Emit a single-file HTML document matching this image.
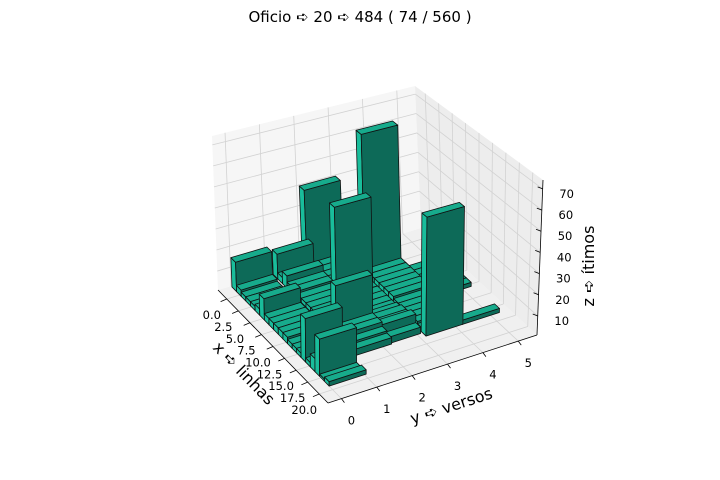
<!DOCTYPE html>
<html><head><meta charset="utf-8"><style>
html,body{margin:0;padding:0;background:#fff;}
svg{display:block;font-family:"DejaVu Sans","Liberation Sans",sans-serif;}
</style></head><body>
<svg id="chart" width="720" height="480" viewBox="0 0 720 480" xmlns="http://www.w3.org/2000/svg">
<text x="360" y="22" text-anchor="middle" font-size="15" fill="#000">Oficio ➪ 20 ➪ 484 ( 74 / 560 )</text>
<g id="panes"></g>
<g id="grid"></g>
<g id="axes"></g>
<g id="bars"></g>
<g id="labels"></g>
<text x="240" y="377" text-anchor="middle" font-size="16" transform="rotate(45.8 240 377)">x ➪ linhas</text>
<text x="453" y="411" text-anchor="middle" font-size="16" transform="rotate(-18 453 411)">y ➪ versos</text>
<text x="594" y="266" text-anchor="middle" font-size="16" transform="rotate(-90 594 266)">z ➪ ítimos</text>
</svg>
<script>
// data (front-face x corner, y start, bar top value)
const barX = [-0.7,0.3,1.3,2.3,3.3,4.3,5.3,6.3,7.3,8.3,9.3,10.3,11.3,12.3,13.2,14.2,15.2,16.2,17.2,18.2,19.25,
  -0.7,0.3,1.3,2.3,3.3,4.3,5.3,6.3,7.3,8.3,9.3,10.3,11.7,12.7,13.7,14.7,15.7,
  -0.7,0.3,1.3,2.3,3.3,4.3,5.5,6.5,7.5,8.5,9.5,10.5,11.5,12.5,13.5,14.5,15.5,
  0.4,1.4,2.4,3.4,4.4,5.4,6.4,7.4,8.4,9.4,10.4,11.4,12.4,13.4,14.4,15.4,16.2,
  16.2,5.4,6.4,7.4,8.4,9.4,10.4];
const barY = [0,0,0,0,0,0,0,0,0,0,0,0,0,0,0,0,0,0,0,0,0,
  1.2,1.2,1.2,1.2,1.2,1.2,1.2,1.2,1.2,1.2,1.2,1.2,1.2,1.2,1.2,1.2,1.2,
  2.05,2.05,2.05,2.05,2.05,2.05,2.05,2.05,2.05,2.05,2.05,2.05,2.05,2.05,2.05,2.05,2.05,
  3.16,3.16,3.16,3.16,3.16,3.16,3.16,3.16,3.16,3.16,3.16,3.16,3.16,3.16,3.16,3.16,3.16,
  4.2,4.2,4.2,4.2,4.2,4.2,4.2];
const barZ = [15,4,3,3,3,4,11,4,4,4,4,4,3,3,3,21,3,7,18,2,3,
  13,4,7,4,4,3,3,3,3,3,3,3,25,7,7,5,4,
  40,4,4,4,4,4,45,4,4,4,4,4,5,6,6,8,4,
  5,5,5,71,5,5,5,5,5,5,4,4,4,4,4,3,57,
  3,3,3,3,3,3,3];
const xTicks = [0,2.5,5,7.5,10,12.5,15,17.5,20];
const xTickLabels = ["0.0","2.5","5.0","7.5","10.0","12.5","15.0","17.5","20.0"];
const yTicks = [0,1,2,3,4,5];
const yTickLabels = ["0","1","2","3","4","5"];
const zTicks = [10,20,30,40,50,60,70];
const zTickLabels = ["10","20","30","40","50","60","70"];

const XMIN=-1.9,XMAX=21.9,YMIN=-0.38,YMAX=5.53,ZMIN=1,ZMAX=74.2;
const DX=1.0, DY=1.05;
const C={ '000':[218,290],'100':[328,403],'110':[537,335],'010':[421,228],
          '001':[212,136],'101':[328,240],'111':[543,180],'011':[415,86]};
function P(x,y,z){
  const u=(x-XMIN)/(XMAX-XMIN), v=(y-YMIN)/(YMAX-YMIN), w=(z-ZMIN)/(ZMAX-ZMIN);
  let sx=0,sy=0;
  for(const i of [0,1])for(const j of [0,1])for(const k of [0,1]){
    const wt=(i?u:1-u)*(j?v:1-v)*(k?w:1-w);
    const c=C[''+i+j+k]; sx+=wt*c[0]; sy+=wt*c[1];
  }
  return [sx,sy];
}
const NS='http://www.w3.org/2000/svg';
function poly(g,pts,fill,stroke,sw,name){
  const p=document.createElementNS(NS,'polygon');
  p.setAttribute('points',pts.map(q=>q[0].toFixed(2)+','+q[1].toFixed(2)).join(' '));
  p.setAttribute('fill',fill);
  if(stroke){p.setAttribute('stroke',stroke);p.setAttribute('stroke-width',sw);p.setAttribute('stroke-linejoin','round');}
  
  
  g.appendChild(p);return p;
}
function line(g,a,b,col,sw,name){
  const l=document.createElementNS(NS,'line');
  l.setAttribute('x1',a[0]);l.setAttribute('y1',a[1]);l.setAttribute('x2',b[0]);l.setAttribute('y2',b[1]);
  l.setAttribute('stroke',col);l.setAttribute('stroke-width',sw);
  
  
  g.appendChild(l);
}
function text(g,x,y,s,name,anchor){
  const t=document.createElementNS(NS,'text');
  t.setAttribute('x',x);t.setAttribute('y',y);t.setAttribute('font-size','11.5');
  t.setAttribute('text-anchor',anchor||'middle');t.textContent=s;
  
  
  g.appendChild(t);
}
const panes=document.getElementById('panes');
poly(panes,[P(XMIN,YMIN,ZMIN),P(XMAX,YMIN,ZMIN),P(XMAX,YMAX,ZMIN),P(XMIN,YMAX,ZMIN)],'#f0f0f0',null,0,'floor-pane');
poly(panes,[P(XMIN,YMIN,ZMIN),P(XMIN,YMAX,ZMIN),P(XMIN,YMAX,ZMAX),P(XMIN,YMIN,ZMAX)],'#f6f6f6',null,0,'left-pane');
poly(panes,[P(XMIN,YMAX,ZMIN),P(XMAX,YMAX,ZMIN),P(XMAX,YMAX,ZMAX),P(XMIN,YMAX,ZMAX)],'#ededed',null,0,'right-pane');
const grid=document.getElementById('grid');
const GC='#d2d2d2';
xTicks.forEach(x=>{ line(grid,P(x,YMIN,ZMIN),P(x,YMAX,ZMIN),GC,0.8,'floor-gridline-x');
  line(grid,P(x,YMAX,ZMIN),P(x,YMAX,ZMAX),GC,0.8,'right-pane-gridline-x');});
yTicks.forEach(y=>{ line(grid,P(XMIN,y,ZMIN),P(XMAX,y,ZMIN),GC,0.8,'floor-gridline-y');
  line(grid,P(XMIN,y,ZMIN),P(XMIN,y,ZMAX),GC,0.8,'left-pane-gridline-y');});
zTicks.forEach(z=>{ line(grid,P(XMIN,YMIN,z),P(XMIN,YMAX,z),GC,0.8,'left-pane-gridline-z');
  line(grid,P(XMIN,YMAX,z),P(XMAX,YMAX,z),GC,0.8,'right-pane-gridline-z');});
const ax=document.getElementById('axes');
line(ax,P(XMIN,YMIN,ZMIN),P(XMAX,YMIN,ZMIN),'#000',0.8,'x-axis-line');
line(ax,P(XMAX,YMIN,ZMIN),P(XMAX,YMAX,ZMIN),'#000',0.8,'y-axis-line');
line(ax,P(XMAX,YMAX,ZMIN),P(XMAX,YMAX,ZMAX),'#000',0.8,'z-axis-line');
const lab=document.getElementById('labels');
xTicks.forEach((x,i)=>{const a=P(x,YMIN,ZMIN),b=P(x,YMIN-0.15,ZMIN);
  line(ax,a,[b[0]-1,b[1]+1],'#000',0.8,'x-tick');
  text(lab,a[0]-15,a[1]+20,xTickLabels[i],'x-tick-label');});
yTicks.forEach((y,i)=>{const a=P(XMAX,y,ZMIN);
  line(ax,a,[a[0]+3,a[1]+4],'#000',0.8,'y-tick');
  text(lab,a[0]+10,a[1]+26,yTickLabels[i],'y-tick-label');});
zTicks.forEach((z,i)=>{const a=P(XMAX,YMAX,z);
  line(ax,a,[a[0]-5,a[1]-2],'#000',0.8,'z-tick');
  text(lab,a[0]+24,a[1]+9,zTickLabels[i],'z-tick-label');});
// bars
const bg=document.getElementById('bars');
const idx=barX.map((_,i)=>i);
function close(i){const xc=barX[i]-DX/2, yc=barY[i]+DY/2;
  return 0.5*(xc-XMIN)/(XMAX-XMIN)-0.866*(yc-YMIN)/(YMAX-YMIN);}
idx.sort((a,b)=>close(a)-close(b));
idx.forEach(i=>{
  const x1=barX[i], x0=x1-DX, y0=barY[i], y1=y0+DY, z0=ZMIN, z1=barZ[i];
  const g=document.createElementNS(NS,'g');
  
  
  bg.appendChild(g);
  poly(g,[P(x0,y0,z0),P(x1,y0,z0),P(x1,y0,z1),P(x0,y0,z1)],'#19bd9b','#111',0.8,'bar-side-face');
  poly(g,[P(x1,y0,z0),P(x1,y1,z0),P(x1,y1,z1),P(x1,y0,z1)],'#0d6a58','#111',0.8,'bar-front-face');
  poly(g,[P(x0,y0,z1),P(x1,y0,z1),P(x1,y1,z1),P(x0,y1,z1)],'#17ab8c','#111',0.8,'bar-top-face');
});
</script>
</body></html>
